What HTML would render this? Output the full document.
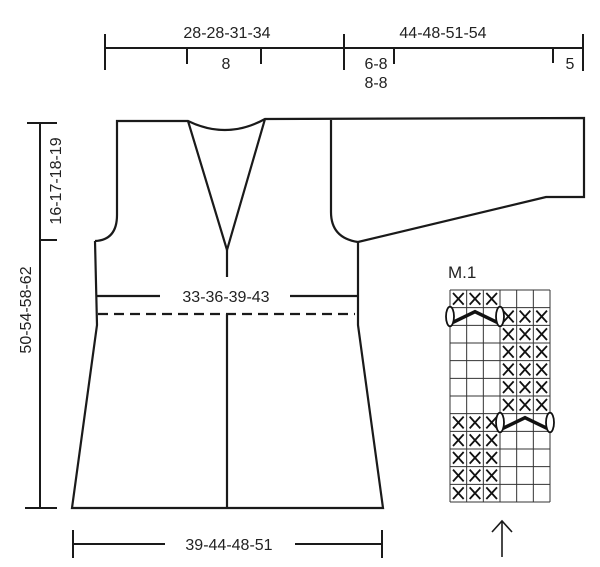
<!DOCTYPE html>
<html><head><meta charset="utf-8"><style>
html,body{margin:0;padding:0;background:#fff}
svg{display:block}
text{font-family:"Liberation Sans",sans-serif;fill:#222}
</style></head><body>
<svg id="s" width="600" height="567" viewBox="0 0 600 567">
<g stroke="#1a1a1a" stroke-width="2.2" fill="none">
  <path d="M95,241 Q117,240 117,215 L117,121 L188,121 Q227,140 265,119 L584,118 L584,197 L546,197 L358,242 Q331,238 331,212 L331,120"/>
  <path d="M188,121 L227,250 L265,119"/>
  <path d="M95,241 L97,325 L72,508 L383,508 L358,325 L358,242"/>
  <line x1="227" y1="250" x2="227" y2="277"/>
  <line x1="227" y1="314" x2="227" y2="508"/>
  <line x1="97" y1="296" x2="160" y2="296"/>
  <line x1="290" y1="296" x2="357" y2="296"/>
  <line x1="98" y1="314" x2="355" y2="314" stroke-dasharray="10,6"/>
</g>
<text x="226" y="302" font-size="16" text-anchor="middle">33-36-39-43</text>
<g stroke="#1a1a1a" stroke-width="2">
  <line x1="105" y1="48" x2="583" y2="48"/>
  <line x1="105" y1="34" x2="105" y2="70"/><line x1="344" y1="34" x2="344" y2="70"/><line x1="583" y1="34" x2="583" y2="71"/>
  <line x1="187" y1="48" x2="187" y2="64"/><line x1="261" y1="48" x2="261" y2="64"/>
  <line x1="394" y1="48" x2="394" y2="64"/><line x1="553" y1="48" x2="553" y2="63"/>
</g>
<text x="227" y="38" font-size="16" text-anchor="middle">28-28-31-34</text>
<text x="443" y="38" font-size="16" text-anchor="middle">44-48-51-54</text>
<text x="226" y="69" font-size="16" text-anchor="middle">8</text>
<text x="376" y="69" font-size="16" text-anchor="middle">6-8</text>
<text x="376" y="88" font-size="16" text-anchor="middle">8-8</text>
<text x="570" y="69" font-size="16" text-anchor="middle">5</text>
<g stroke="#1a1a1a" stroke-width="2">
  <line x1="40" y1="123" x2="40" y2="508"/>
  <line x1="27" y1="123" x2="57" y2="123"/>
  <line x1="40" y1="240" x2="57" y2="240"/>
  <line x1="25" y1="508" x2="57" y2="508"/>
</g>
<text transform="translate(61,181) rotate(-90)" font-size="16" text-anchor="middle">16-17-18-19</text>
<text transform="translate(31,310) rotate(-90)" font-size="16" text-anchor="middle">50-54-58-62</text>
<g stroke="#1a1a1a" stroke-width="2">
  <line x1="73" y1="544" x2="165" y2="544"/>
  <line x1="295" y1="544" x2="382" y2="544"/>
  <line x1="73" y1="530" x2="73" y2="558"/>
  <line x1="382" y1="530" x2="382" y2="558"/>
</g>
<text x="229" y="550" font-size="16" text-anchor="middle">39-44-48-51</text>
<text x="448" y="278" font-size="17">M.1</text>
<g id="chart"></g>
<g stroke="#1a1a1a" stroke-width="1.6" fill="none">
  <line x1="502" y1="521" x2="502" y2="557"/>
  <polyline points="492,532 502,521 512,532"/>
</g>
</svg>
<script>
// Chart rows top to bottom: 'L' = crosses in cols 0-2, 'R' = crosses cols 3-5
const rowPattern = ['L','R','R','R','R','R','R','L','L','L','L','L'];
// cable symbols: [row, startCol]
const cableRows = [1, 7];
const cableCols = [0, 3];
const nCols = 6;
const gx = 450, gy = 290, cw = 100/6, rh = 212/12;
const NS = 'http://www.w3.org/2000/svg';
const g = document.getElementById('chart');
function mk(t, a){const e=document.createElementNS(NS,t);for(const k in a)e.setAttribute(k,a[k]);g.appendChild(e);return e;}
const nRows = rowPattern.length;
for(let c=0;c<=nCols;c++){const l=mk('line',{x1:gx+c*cw,y1:gy,x2:gx+c*cw,y2:gy+nRows*rh,stroke:'#333','stroke-width':1});

}
for(let r=0;r<=nRows;r++){const l=mk('line',{x1:gx,y1:gy+r*rh,x2:gx+nCols*cw,y2:gy+r*rh,stroke:'#333','stroke-width':1});

}
function isCable(r,c){for(let i=0;i<cableRows.length;i++){if(cableRows[i]===r&&c>=cableCols[i]&&c<cableCols[i]+3)return true;}return false;}
rowPattern.forEach((p,r)=>{
  const start = p==='L'?0:3;
  for(let c=start;c<start+3;c++){
    if(isCable(r,c))continue;
    const x=gx+c*cw, y=gy+r*rh, m=3;
    const e=mk('path',{d:`M${x+m},${y+m} L${x+cw-m},${y+rh-m} M${x+cw-m},${y+m} L${x+m},${y+rh-m}`,stroke:'#111','stroke-width':1.8,fill:'none'});
    
    
  }
});
cableRows.forEach((r,i)=>{
  const x0=gx+cableCols[i]*cw, x1=x0+3*cw, y=gy+r*rh;
  const p=mk('polyline',{points:`${x0+3},${y+rh-3} ${(x0+x1)/2},${y+4} ${x1-3},${y+rh-3}`,stroke:'#111','stroke-width':3.5,fill:'none'});
  
  
  [x0,x1].forEach(x=>{const e=mk('ellipse',{cx:x,cy:y+rh/2,rx:4,ry:rh/2+1,fill:'#fff',stroke:'#111','stroke-width':1.8});
  
  });
});
</script>
</body></html>
